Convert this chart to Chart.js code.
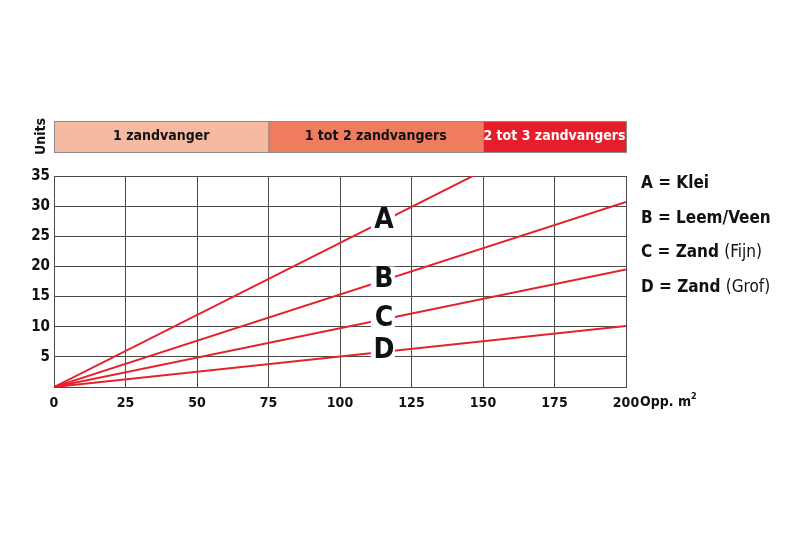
<!DOCTYPE html>
<html>
<head>
<meta charset="utf-8">
<script src="https://cdn.jsdelivr.net/npm/chart.js@4.4.1/dist/chart.umd.min.js"></script>
<style>
    html, body { margin: 0; padding: 0; background: #fff; }
    #chart { display: block; }
</style>
</head>
<body>
<canvas id="chart" width="800" height="533"></canvas>
<script>
// x positions (Opp. m2) of each line's end points
const xValues = [0, 200];

// units at those positions, lines run past the top and get clipped
const seriesA = [0, 47.8];
const seriesB = [0, 30.7];
const seriesC = [0, 19.5];
const seriesD = [0, 10.1];

const seriesLetters = ['A', 'B', 'C', 'D'];
const legendNames = ['Klei', 'Leem/Veen', 'Zand', 'Zand'];
const legendExtra = ['', '', '(Fijn)', '(Grof)'];
const labelAtX = 115;

const xTicks = [0, 25, 50, 75, 100, 125, 150, 175, 200];
const yTicks = [5, 10, 15, 20, 25, 30, 35];

const bandStart = [0, 75, 150];
const bandEnd = [75, 150, 200];
const bandLabels = ['1 zandvanger', '1 tot 2 zandvangers', '2 tot 3 zandvangers'];
const bandColors = ['#f6b9a1', '#ef7c5f', '#e61e2b'];
const bandText = ['#111', '#111', '#fff'];

const FONT = '"Liberation Sans Narrow", "DejaVu Sans Condensed", "Roboto Condensed", "Liberation Sans", sans-serif';
const RED = '#e3222d';

let allSeries = [seriesA, seriesB, seriesC, seriesD];

function valueAt(s, x)
{
    let t = (x - xValues[0]) / (xValues[1] - xValues[0]);
    return s[0] + (s[1] - s[0]) * t;
}

let decor = {
    id: 'decor',
    afterDatasetsDraw(chart)
    {
        let ctx = chart.ctx;
        let xs = chart.scales.x;
        let ys = chart.scales.y;

        // letters sitting on the lines
        ctx.save();
        ctx.font = 'bold 28px ' + FONT;
        ctx.textAlign = 'center';
        ctx.textBaseline = 'middle';
        for (let i = 0; i < allSeries.length; i++)
        {
            let px = xs.getPixelForValue(labelAtX);
            let py = ys.getPixelForValue(valueAt(allSeries[i], labelAtX));
            ctx.fillStyle = '#fff';
            ctx.fillRect(px - 12, py - 14, 24, 28);
            ctx.fillStyle = '#111';
            ctx.fillText(seriesLetters[i], px + 1, py - 1);
        }
        ctx.restore();
    },
    afterDraw(chart)
    {
        let ctx = chart.ctx;
        let xs = chart.scales.x;

        // band with number of zandvangers
        ctx.save();
        let top = 121, h = 31;
        ctx.font = 'bold 14px ' + FONT;
        ctx.textAlign = 'center';
        ctx.textBaseline = 'middle';
        for (let i = 0; i < bandLabels.length; i++)
        {
            let x0 = xs.getPixelForValue(bandStart[i]);
            let x1 = xs.getPixelForValue(bandEnd[i]);
            ctx.fillStyle = bandColors[i];
            ctx.fillRect(x0, top, x1 - x0, h);
            ctx.strokeStyle = '#8a8a8a';
            ctx.lineWidth = 1;
            ctx.strokeRect(x0 + 0.5, top + 0.5, x1 - x0, h);
            ctx.fillStyle = bandText[i];
            ctx.fillText(bandLabels[i], (x0 + x1) / 2, top + h / 2);
        }

        // "Units" title, rotated
        ctx.translate(41, top + h / 2);
        ctx.rotate(-Math.PI / 2);
        ctx.fillStyle = '#111';
        ctx.font = 'bold 14px ' + FONT;
        ctx.fillText('Units', 0, 0);
        ctx.restore();

        // legend on the right
        ctx.save();
        ctx.textAlign = 'left';
        ctx.textBaseline = 'middle';
        ctx.fillStyle = '#111';
        for (let i = 0; i < seriesLetters.length; i++)
        {
            let x = 641;
            let y = 184 + i * 34.5;
            ctx.font = 'bold 17px ' + FONT;
            let txt = seriesLetters[i] + ' = ' + legendNames[i];
            ctx.fillText(txt, x, y);
            if (legendExtra[i])
            {
                let w = ctx.measureText(txt + ' ').width;
                ctx.font = '17px ' + FONT;
                ctx.fillText(legendExtra[i], x + w, y);
            }
        }

        // x axis title
        let bx = xs.getPixelForValue(200) + 14;
        ctx.font = 'bold 14px ' + FONT;
        ctx.fillText('Opp. m', bx, 402);
        let w2 = ctx.measureText('Opp. m').width;
        ctx.font = 'bold 9px ' + FONT;
        ctx.fillText('2', bx + w2, 397);
        ctx.restore();
    }
};

let datasets = [];
for (let i = 0; i < allSeries.length; i++)
{
    datasets.push({
        label: seriesLetters[i],
        data: xValues.map((x, j) => ({ x: x, y: allSeries[i][j] })),
        showLine: true,
        borderColor: RED,
        backgroundColor: RED,
        borderWidth: 2,
        pointRadius: 0,
    });
}

let config = {
    type: 'scatter',
    data: { datasets: datasets },
    options: {
        responsive: false,
        animation: false,
        layout: { padding: { left: 0, right: 174, top: 176, bottom: 116 } },
        plugins: {
            legend: { display: false },
            tooltip: { enabled: false },
        },
        scales: {
            x: {
                type: 'linear',
                min: 0,
                max: 200,
                afterBuildTicks: axis => { axis.ticks = xTicks.map(v => ({ value: v })); },
                afterFit: axis => { axis.height = 30; },
                grid: { color: '#4a4a4a', lineWidth: 1, drawTicks: false },
                border: { color: '#4a4a4a' },
                ticks: {
                    color: '#111',
                    padding: 8,
                    maxRotation: 0,
                    font: { family: FONT, size: 14, weight: 'bold' },
                },
            },
            y: {
                type: 'linear',
                min: 0,
                max: 35,
                afterBuildTicks: axis => { axis.ticks = [0].concat(yTicks).map(v => ({ value: v })); },
                afterFit: axis => { axis.width = 54; },
                grid: { color: '#4a4a4a', lineWidth: 1, drawTicks: false },
                border: { color: '#4a4a4a' },
                ticks: {
                    color: '#111',
                    padding: 4,
                    font: { family: FONT, size: 15, weight: 'bold' },
                    callback: v => v === 0 ? '' : v,
                },
            },
        },
    },
    plugins: [decor],
};

new Chart('chart', config);
</script>
</body>
</html>
